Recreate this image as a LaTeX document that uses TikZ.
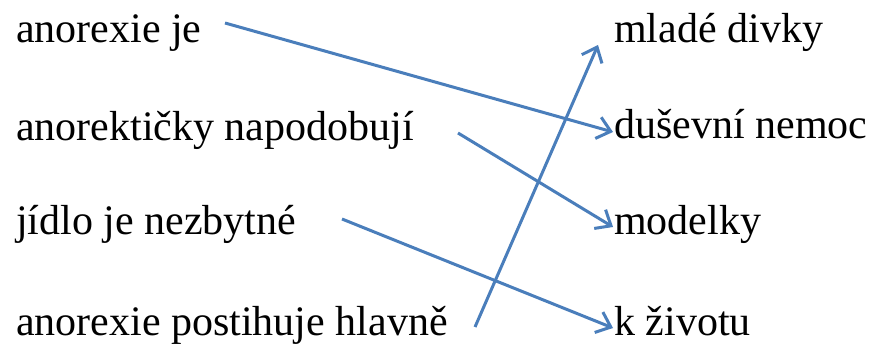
\documentclass[tikz,border=0pt]{standalone}
\usepackage{fontspec}
\setmainfont{Liberation Serif}
\usetikzlibrary{arrows.meta}
\definecolor{linkblue}{HTML}{4A7EBB}
\begin{document}
\begin{tikzpicture}[x=1pt,y=-1pt,
  lbl/.style={anchor=base west,inner sep=0pt,font=\rmfamily\fontsize{42}{50}\selectfont},
  link/.style={draw=linkblue,line width=3pt,-{Straight Barb[length=13pt,width=22pt,line width=3pt]}}]
\useasboundingbox (0,0) rectangle (877,347);
\node[lbl] (l1) at (16,43) {anorexie je};
\node[lbl] (l2) at (16,141) {anorektičky napodobují};
\node[lbl] (l3) at (16,234) {jídlo je nezbytné};
\node[lbl] (l4) at (16,335) {anorexie postihuje hlavně};
\node[lbl] (r1) at (614,43) {mladé divky};
\node[lbl] (r2) at (614,139) {duševní nemoc};
\node[lbl] (r3) at (614,234) {modelky};
\node[lbl] (r4) at (614,335) {k životu};
\coordinate (s1) at (225,23);
\coordinate (e1) at (613,132);
\coordinate (s2) at (458,133);
\coordinate (e2) at (613,227);
\coordinate (s3) at (342,219);
\coordinate (e3) at (613,328);
\coordinate (s4) at (475,327);
\coordinate (e4) at (598,45);
\draw[link] (s1) -- (e1);
\draw[link] (s2) -- (e2);
\draw[link] (s3) -- (e3);
\draw[link] (s4) -- (e4);
\end{tikzpicture}
\end{document}
